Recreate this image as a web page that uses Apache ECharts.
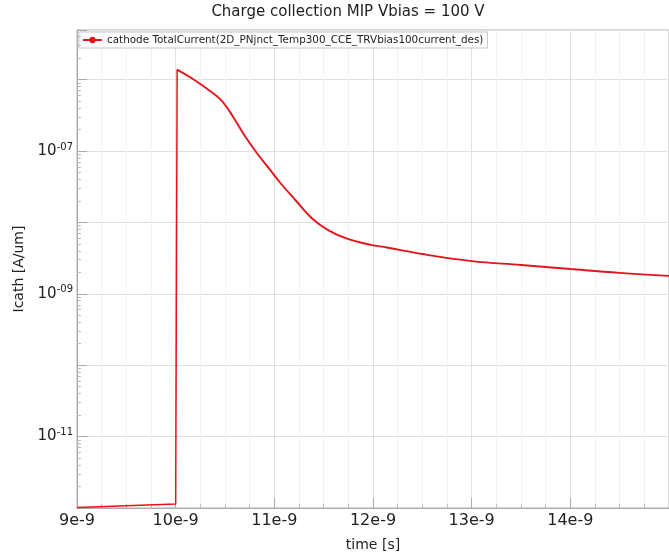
<!DOCTYPE html>
<html>
<head>
<meta charset="utf-8">
<script src="https://cdn.jsdelivr.net/npm/echarts@6/dist/echarts.min.js"></script>
<style>
  html, body { margin: 0; padding: 0; background: #fff; }
  #main { width: 669px; height: 557px; }
</style>
</head>
<body>
<div id="main"></div>
<script>
// time in units of 1e-9 s
var timeNs = [9.0, 10.0, 10.015, 10.155, 10.338, 10.47, 10.586, 10.70, 10.817, 10.95,
	11.066, 11.215, 11.38, 11.545, 11.744, 11.976, 12.14, 12.5, 13.0, 13.5, 14.0, 14.5, 15.0];
var icath = [1.02e-12, 1.14e-12, 1.38e-6, 1.06e-6, 7.1e-7, 5.0e-7, 2.94e-7, 1.63e-7, 9.6e-8, 5.6e-8,
	3.5e-8, 2.04e-8, 1.14e-8, 7.8e-9, 5.86e-9, 4.84e-9, 4.45e-9, 3.6e-9, 2.87e-9, 2.53e-9, 2.22e-9, 1.96e-9, 1.78e-9];
var peakIndex = 2;
var xTicks = [9, 10, 11, 12, 13, 14];
var yLabelExp = [-11, -9, -7];

var seriesName = 'cathode TotalCurrent(2D_PNjnct_Temp300_CCE_TRVbias100current_des)';
var yMin = 1e-12, yMax = 4.94e-6;
var red = '#e3141b';

// rise (straight) and decay (smooth) parts, shown as one legend entry
var risePts = [], decayPts = [];
for (var i = 0; i < timeNs.length; i++) {
	if (i <= peakIndex) risePts.push([timeNs[i], icath[i]]);
	if (i >= peakIndex) decayPts.push([timeNs[i], icath[i]]);
}

// faint log minor grid lines and ticks (2..9 x 10^n)
var minorLines = [], minorTicks = [];
for (var n = -12; n <= -6; n++) {
	for (var k = 2; k <= 9; k++) {
		var v = k * Math.pow(10, n);
		if (v < yMax) {
			minorLines.push({ yAxis: v });
			minorTicks.push([{ coord: [9, v] }, { coord: [9.04, v] }]);
		}
	}
}

function pad2(e) {
	var s = String(Math.abs(e));
	if (s.length < 2) s = '0' + s;
	return '-' + s;
}

var chart = echarts.init(document.getElementById('main'));
chart.setOption({
	animation: false,
	backgroundColor: '#fff',
	title: {
		text: 'Charge collection MIP Vbias = 100 V',
		left: 348,
		top: 5,
		padding: 0,
		textAlign: 'center',
		textStyle: { fontFamily: 'DejaVu Sans', fontSize: 15, fontWeight: 'normal', color: '#222' }
	},
	legend: {
		data: [seriesName],
		left: 79,
		top: 32,
		padding: [3, 4, 3, 3],
		itemWidth: 19,
		itemHeight: 8,
		backgroundColor: '#fff',
		borderColor: '#c4c4c4',
		borderWidth: 1,
		textStyle: { fontFamily: 'DejaVu Sans', fontSize: 10.4, color: '#222' }
	},
	grid: {
		left: 77,
		right: -12,
		top: 30,
		bottom: 45,
		show: true,
		borderColor: '#b0b0b0',
		borderWidth: 1
	},
	xAxis: {
		type: 'value',
		min: 9,
		max: 15,
		interval: 1,
		name: 'time [s]',
		nameLocation: 'middle',
		nameGap: 30,
		nameTextStyle: { fontFamily: 'DejaVu Sans', fontSize: 14, color: '#222' },
		axisLine: { lineStyle: { color: '#aaa' } },
		axisTick: { inside: true, length: 10, lineStyle: { color: '#aaa' } },
		minorTick: { show: true, splitNumber: 4, length: 4, lineStyle: { color: '#bbb' } },
		splitLine: { show: true, lineStyle: { color: '#e0e0e0' } },
		minorSplitLine: { show: true, lineStyle: { color: '#f2f2f2' } },
		axisLabel: {
			margin: 5,
			showMaxLabel: false,
			fontFamily: 'DejaVu Sans',
			fontSize: 16,
			color: '#222',
			formatter: function (v) {
				return xTicks.indexOf(v) >= 0 ? v + 'e-9' : '';
			}
		}
	},
	yAxis: {
		type: 'log',
		min: yMin,
		max: yMax,
		name: 'Icath [A/um]',
		nameLocation: 'middle',
		nameGap: 43,
		nameTextStyle: { fontFamily: 'DejaVu Sans', fontSize: 14, color: '#222' },
		axisLine: { show: true, lineStyle: { color: '#aaa' } },
		axisTick: { inside: true, length: 10, lineStyle: { color: '#aaa' } },
		splitLine: { show: true, lineStyle: { color: '#e0e0e0' } },
		axisLabel: {
			margin: 4,
			fontFamily: 'DejaVu Sans',
			color: '#222',
			formatter: function (v) {
				var e = Math.log10(v);
				var r = Math.round(e);
				if (Math.abs(e - r) > 1e-6 || yLabelExp.indexOf(r) < 0) return '';
				return '{b|10}{s|' + pad2(r) + '}';
			},
			rich: {
				b: { fontFamily: 'DejaVu Sans', fontSize: 15, color: '#222', lineHeight: 18 },
				s: { fontFamily: 'DejaVu Sans', fontSize: 10, color: '#222', verticalAlign: 'top', lineHeight: 10 }
			}
		}
	},
	series: [
		{
			name: 'minor',
			type: 'line',
			data: [[9, 1e-12]],
			showSymbol: false,
			lineStyle: { opacity: 0 },
			silent: true,
			z: 1,
			markLine: {
				silent: true,
				symbol: 'none',
				label: { show: false },
				lineStyle: { color: '#ebebeb', type: 'solid', width: 1 },
				data: minorLines
			}
		},
		{
			name: 'minorTick',
			type: 'line',
			data: [[9, 1e-12]],
			showSymbol: false,
			lineStyle: { opacity: 0 },
			silent: true,
			z: 2,
			markLine: {
				silent: true,
				symbol: 'none',
				label: { show: false },
				lineStyle: { color: '#bbb', type: 'solid', width: 1 },
				data: minorTicks
			}
		},
		{
			name: seriesName,
			type: 'line',
			z: 3,
			data: risePts,
			symbol: 'circle',
			symbolSize: 3,
			showSymbol: false,
			itemStyle: { color: red },
			lineStyle: { color: red, width: 1.5 }
		},
		{
			name: seriesName,
			type: 'line',
			z: 3,
			data: decayPts,
			symbol: 'circle',
			symbolSize: 3,
			showSymbol: false,
			smooth: 0.4,
			itemStyle: { color: red },
			lineStyle: { color: red, width: 1.9 }
		}
	]
});
</script>
</body>
</html>
